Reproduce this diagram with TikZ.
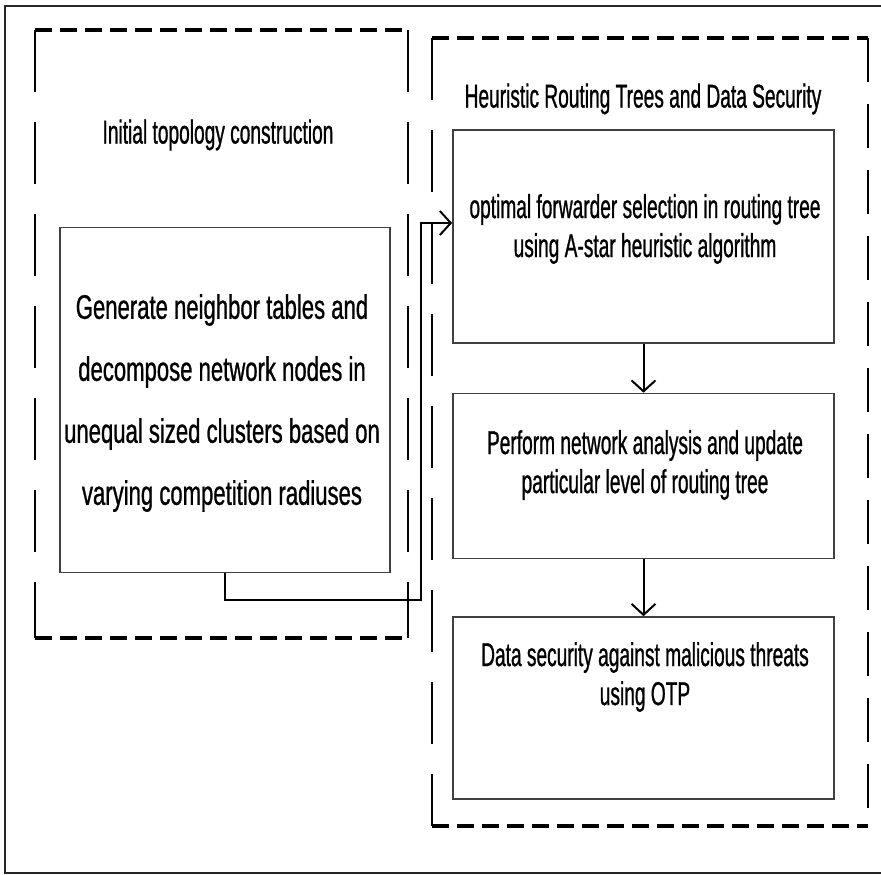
\documentclass[tikz,border=0pt]{standalone}
\usepackage{fontspec}
\setmainfont{Liberation Sans}
\newfontfamily\narrowfont{Liberation Sans}[FakeStretch=0.58, FakeBold=0.8]
\newfontfamily\widerfont{Liberation Sans}[FakeStretch=0.65, FakeBold=0.8]
\usetikzlibrary{arrows.meta}
\tikzset{
  x=1pt, y=-1pt,
  frameline/.style={line width=1.8pt, black!85},
  hdash/.style={line width=3.6pt, dash pattern=on 17pt off 8pt},
  vdash/.style={line width=2.4pt, dash pattern=on 62pt off 30pt},
  stepbox/.style={draw=black!75, line width=1.6pt, rectangle, inner sep=0pt},
  bigtxt/.style={align=center, font=\widerfont\fontsize{34}{62}\selectfont, inner sep=0pt},
  txt/.style={align=center, font=\narrowfont\fontsize{33}{39}\selectfont, inner sep=0pt},
  flow/.style={line width=2pt, -{Straight Barb[length=11pt, width=24pt, line width=2pt]}},
}
\begin{document}
\begin{tikzpicture}
\useasboundingbox (0,0) rectangle (881,875);
\fill[white] (0,0) rectangle (881,875);
% outer frame
\draw[frameline] (890,6) -- (5,6) -- (5,873) -- (890,873);
% left dashed group
\draw[hdash] (35,30) -- (408,30);
\draw[hdash] (35,638) -- (408,638);
\draw[vdash] (35,30) -- (35,638);
\draw[vdash] (408,30) -- (408,638);
% right dashed group
\draw[hdash] (432,38) -- (868,38);
\draw[hdash] (432,826) -- (868,826);
\draw[vdash] (432,38) -- (432,826);
\draw[vdash, dash pattern=on 44pt off 22pt] (868,38) -- (868,826);
% titles
\node[txt] (t1) at (218,135) {Initial topology construction};
\node[txt] (t2) at (643,99) {Heuristic Routing Trees and Data Security};
% boxes
\node[stepbox, minimum width=330pt, minimum height=345pt] (box1) at (225,400) {};
\node[stepbox, minimum width=381pt, minimum height=213pt] (boxA) at (643.5,236.5) {};
\node[stepbox, minimum width=381pt, minimum height=165pt] (boxB) at (643.5,476) {};
\node[stepbox, minimum width=381pt, minimum height=182pt] (boxC) at (643.5,708) {};
% texts
\node[bigtxt] (x1) at (222,403) {Generate neighbor tables and\\decompose network nodes in\\unequal sized clusters based on\\varying competition radiuses};
\node[txt] (xA) at (645,229) {optimal forwarder selection in routing tree\\using A-star heuristic algorithm};
\node[txt] (xB) at (645,465) {Perform network analysis and update\\particular level of routing tree};
\node[txt] (xC) at (645,677) {Data security against malicious threats\\using OTP};
% connectors
\coordinate (c1) at (421,600);
\coordinate (c2) at (421,223);
\draw[flow] (box1.south) |- (c1) -- (c2) -- (c2 -| boxA.west);
\draw[flow] (boxA.south) -- (boxB.north);
\draw[flow] (boxB.south) -- (boxC.north);
\end{tikzpicture}
\end{document}
